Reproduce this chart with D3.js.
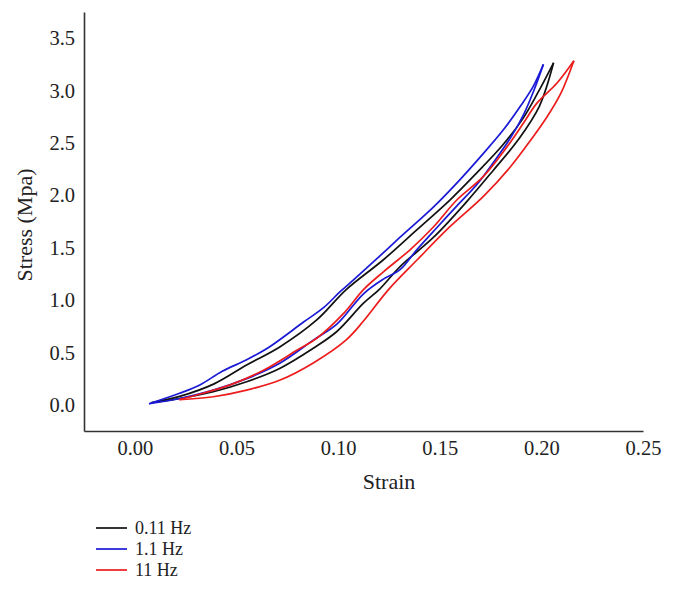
<!DOCTYPE html>
<html><head><meta charset="utf-8">
<script src="https://cdn.jsdelivr.net/npm/d3@7"></script>
<style>body{margin:0;background:#fff} svg{display:block}</style>
</head><body>
<svg id="c" width="675" height="590"></svg>
<script>
const xTicks = [0, 0.05, 0.10, 0.15, 0.20, 0.25];
const yTicks = [0, 0.5, 1.0, 1.5, 2.0, 2.5, 3.0, 3.5];
const seriesNames = ["0.11 Hz", "1.1 Hz", "11 Hz"];

// [strain, stress] pairs for each branch of each hysteresis loop
const black_upper = [[0.008,0.02],[0.022,0.08],[0.039,0.2],[0.055,0.38],[0.0715,0.555],[0.0895,0.81],[0.104,1.1],[0.122,1.38],[0.1387,1.67],[0.155,1.955],[0.168,2.21],[0.181,2.48],[0.1905,2.72],[0.198,2.97],[0.206,3.265]];
const black_lower = [[0.008,0.02],[0.022,0.06],[0.0386,0.125],[0.055,0.22],[0.0715,0.35],[0.0878,0.54],[0.0994,0.70],[0.1125,0.97],[0.1207,1.11],[0.1305,1.32],[0.147,1.60],[0.1633,1.94],[0.1764,2.24],[0.1886,2.53],[0.199,2.85],[0.206,3.265]];
const blue_upper = [[0.007,0.01],[0.022,0.11],[0.032,0.19],[0.043,0.32],[0.055,0.43],[0.066,0.55],[0.083,0.79],[0.093,0.93],[0.101,1.08],[0.108,1.2],[0.121,1.43],[0.1305,1.6],[0.147,1.89],[0.160,2.15],[0.1715,2.40],[0.1815,2.63],[0.19,2.86],[0.196,3.04],[0.201,3.25]];
const blue_lower = [[0.007,0.01],[0.022,0.06],[0.0386,0.14],[0.055,0.25],[0.0715,0.40],[0.088,0.62],[0.0994,0.77],[0.1125,1.06],[0.1223,1.2],[0.1305,1.29],[0.1387,1.48],[0.149,1.7],[0.158,1.89],[0.1686,2.11],[0.1774,2.34],[0.1852,2.56],[0.1915,2.78],[0.1963,3.0],[0.201,3.25]];
const red_upper = [[0.022,0.05],[0.0305,0.094],[0.0469,0.19],[0.0633,0.33],[0.0797,0.52],[0.0895,0.635],[0.1026,0.87],[0.1125,1.10],[0.1223,1.27],[0.1354,1.48],[0.147,1.70],[0.1584,1.955],[0.1715,2.18],[0.183,2.46],[0.1912,2.69],[0.1978,2.88],[0.2076,3.07],[0.216,3.285]];
const red_lower = [[0.022,0.05],[0.0386,0.077],[0.055,0.14],[0.0715,0.237],[0.0878,0.40],[0.104,0.62],[0.1125,0.80],[0.1248,1.10],[0.1387,1.38],[0.155,1.70],[0.1715,1.99],[0.1847,2.27],[0.1945,2.52],[0.2025,2.74],[0.2095,2.97],[0.216,3.285]];

const branches = [[black_upper, black_lower], [blue_upper, blue_lower], [red_upper, red_lower]];
const colors = ["#111111", "#1a1ad6", "#ec1c1c"];
const font = "'Liberation Serif', 'DejaVu Serif', serif";

const svg = d3.select("#c");
const x = d3.scaleLinear().domain([-0.025, 0.25]).range([84, 643]);
const y = d3.scaleLinear().domain([-0.25, 3.75]).range([431, 12]);

const gx = svg.append("g").attr("transform", `translate(0,${y(-0.25)})`)
  .call(d3.axisBottom(x).tickValues(xTicks).tickSize(0).tickPadding(9).tickFormat(d3.format(".2f")));
const gy = svg.append("g").attr("transform", `translate(${x(-0.025)},0)`)
  .call(d3.axisLeft(y).tickValues(yTicks).tickSize(0).tickPadding(9).tickFormat(d3.format(".1f")));
[gx, gy].forEach(g => {
  g.select(".domain").attr("stroke", "#333").attr("stroke-width", 1.6);
  g.selectAll("text").attr("font-family", font).attr("font-size", 20.5).attr("fill", "#222");
});

svg.append("text").attr("x", 389).attr("y", 489).attr("text-anchor", "middle")
  .attr("font-family", font).attr("font-size", 22).attr("fill", "#222").text("Strain");
svg.append("text").attr("transform", "translate(32,225) rotate(-90)").attr("text-anchor", "middle")
  .attr("font-family", font).attr("font-size", 22).attr("fill", "#222").text("Stress (Mpa)");

const line = d3.line().x(d => x(d[0])).y(d => y(d[1])).curve(d3.curveCatmullRom.alpha(0.5));
branches.forEach((pair, i) => {
  pair.forEach(b => {
    svg.append("path").attr("d", line(b)).attr("fill", "none")
      .attr("stroke", colors[i]).attr("stroke-width", 1.7).attr("stroke-linejoin", "round");
  });
});

const leg = svg.append("g");
seriesNames.forEach((n, i) => {
  const yy = 528 + i * 21;
  leg.append("line").attr("x1", 96).attr("x2", 127).attr("y1", yy).attr("y2", yy)
    .attr("stroke", colors[i]).attr("stroke-width", 1.7);
  leg.append("text").attr("x", 135).attr("y", yy).attr("dy", "0.35em")
    .attr("font-family", font).attr("font-size", 18).attr("fill", "#222").text(n);
});
</script>
</body></html>
